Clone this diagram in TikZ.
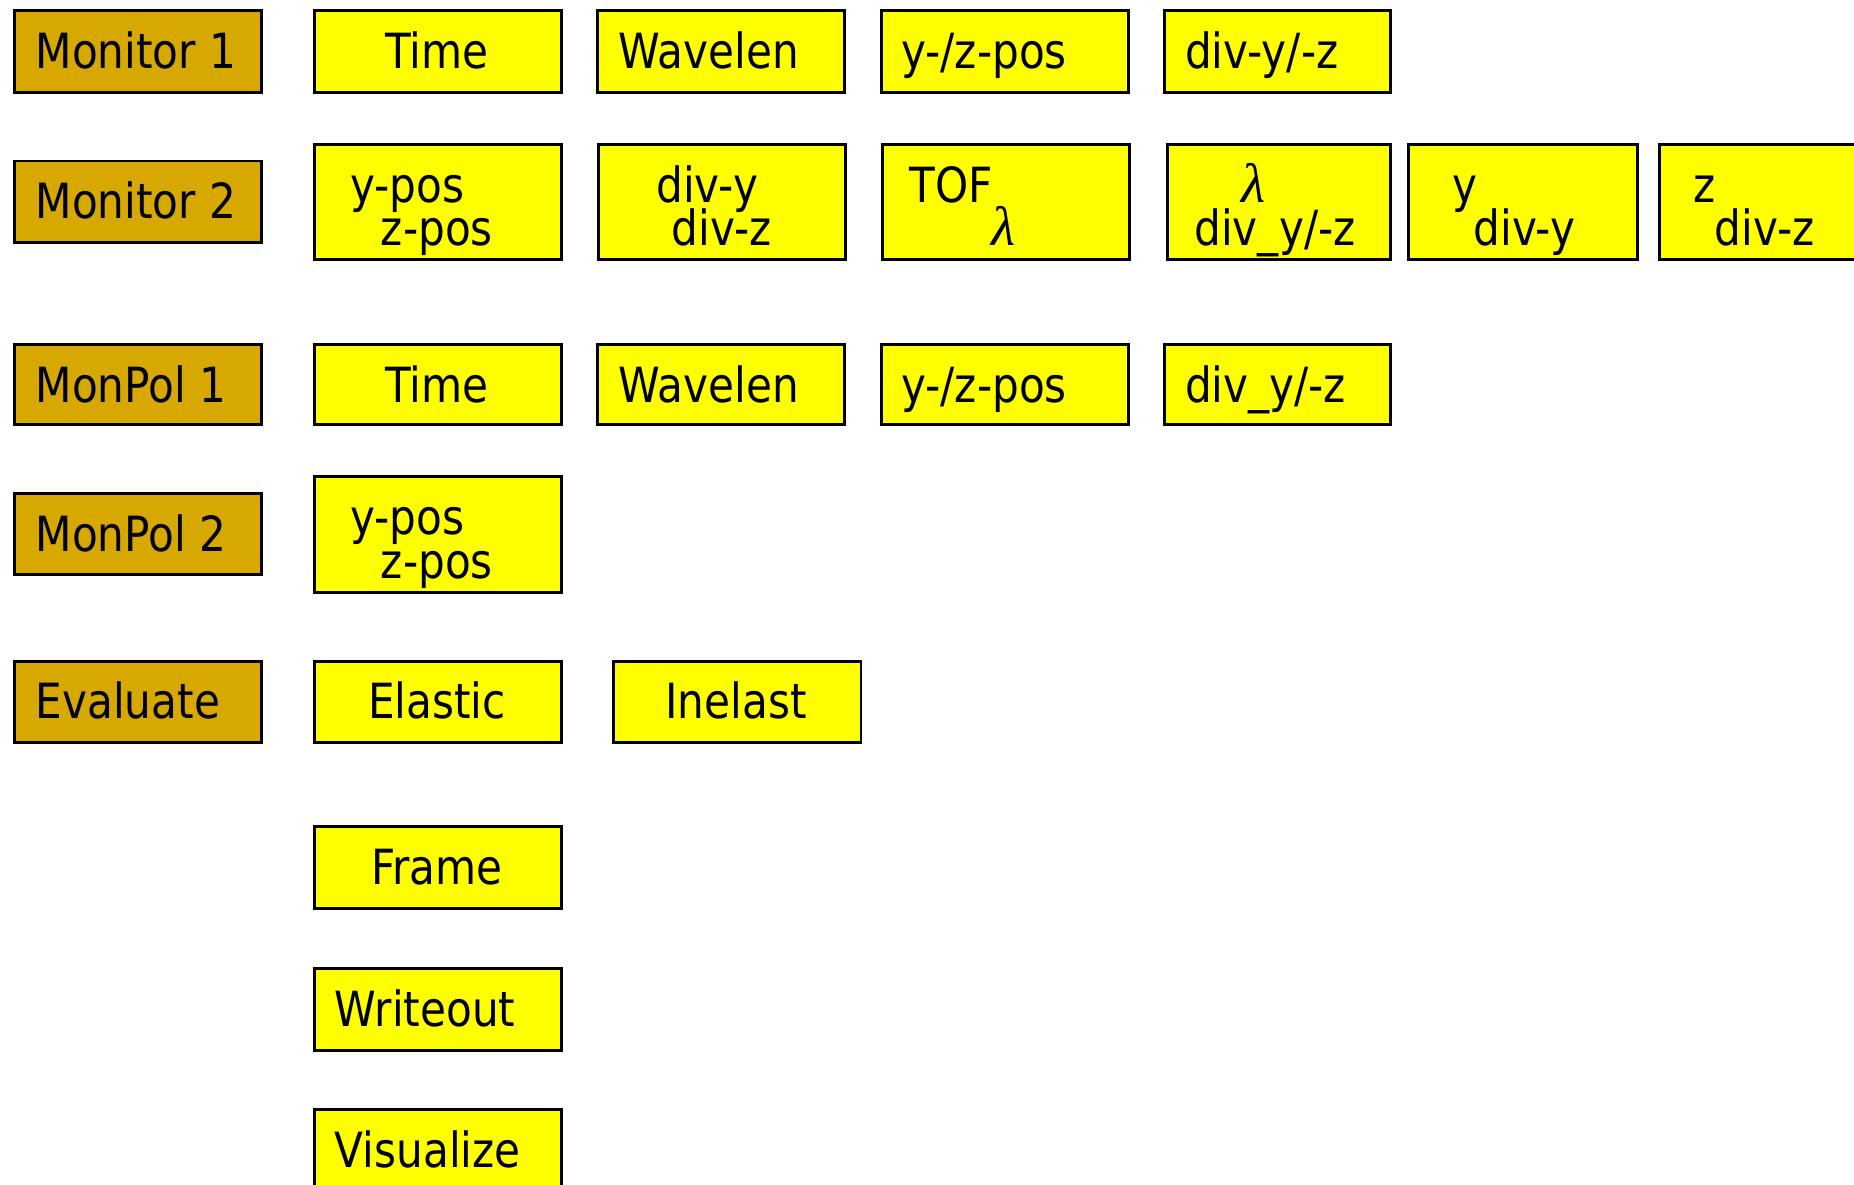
\documentclass[tikz,border=0pt]{standalone}
\usepackage{fontspec}
\setmainfont{DejaVu Sans}[FakeStretch=0.87]
\newfontfamily\lamfont{Liberation Serif}
\definecolor{headgold}{RGB}{214,168,0}
\definecolor{itemyellow}{RGB}{255,255,0}
\newcommand{\lam}{{\lamfont\itshape\fontsize{47}{47}\selectfont λ}}
\tikzset{
  box/.style={draw=black, line width=2.4pt, anchor=north west, inner sep=0pt},
  headbox/.style={box, fill=headgold},
  itembox/.style={box, fill=itemyellow},
  lbl/.style={inner sep=0pt, font=\fontsize{41}{41}\selectfont, anchor=base west},
  clbl/.style={lbl, anchor=base},
}
\begin{document}
\begin{tikzpicture}[x=1pt, y=-1pt]
\clip (0,0) rectangle (1568,1002);
\useasboundingbox (0,0) rectangle (1568,1002);

% --- row 1: Monitor 1
\node[headbox, minimum width=209pt, minimum height=69pt] (m1) at (11,8) {};
\node[itembox, minimum width=209pt, minimum height=69pt] (m1a) at (265,8) {};
\node[itembox, minimum width=209pt, minimum height=69pt] (m1b) at (504,8) {};
\node[itembox, minimum width=209pt, minimum height=69pt] (m1c) at (744,8) {};
\node[itembox, minimum width=191pt, minimum height=69pt] (m1d) at (984,8) {};
\node[lbl] (m1t) at (30,58) {Monitor 1};
\node[clbl] (m1at) at (369.5,58) {Time};
\node[lbl] (m1bt) at (523,58) {Wavelen};
\node[lbl] (m1ct) at (762,58) {y-/z-pos};
\node[lbl] (m1dt) at (1002,58) {div-y/-z};

% --- row 2: Monitor 2
\node[headbox, minimum width=209pt, minimum height=69pt] (m2) at (11,135) {};
\node[itembox, minimum width=209pt, minimum height=97pt] (m2a) at (265,121) {};
\node[itembox, minimum width=209pt, minimum height=97pt] (m2b) at (505,121) {};
\node[itembox, minimum width=209pt, minimum height=97pt] (m2c) at (745,121) {};
\node[itembox, minimum width=189pt, minimum height=97pt] (m2d) at (986,121) {};
\node[itembox, minimum width=194pt, minimum height=97pt] (m2e) at (1190,121) {};
\node[itembox, minimum width=200pt, minimum height=97pt] (m2f) at (1402,121) {};
\node[lbl] (m2t) at (30,185) {Monitor 2};
\node[lbl] (m2a1) at (296,171) {y-pos};
\node[lbl] (m2a2) at (322,208) {z-pos};
\node[lbl] (m2b1) at (555,171) {div-y};
\node[lbl] (m2b2) at (568,208) {div-z};
\node[lbl] (m2c1) at (769,171) {TOF};
\node[lbl] (m2c2) at (838,208) {\lam};
\node[lbl] (m2d1) at (1050,171) {\lam};
\node[lbl] (m2d2) at (1010,208) {div\_y/-z};
\node[lbl] (m2e1) at (1228,171) {y};
\node[lbl] (m2e2) at (1246,208) {div-y};
\node[lbl] (m2f1) at (1432,171) {z};
\node[lbl] (m2f2) at (1450,208) {div-z};

% --- row 3: MonPol 1
\node[headbox, minimum width=209pt, minimum height=68pt] (p1) at (11,290) {};
\node[itembox, minimum width=209pt, minimum height=68pt] (p1a) at (265,290) {};
\node[itembox, minimum width=209pt, minimum height=68pt] (p1b) at (504,290) {};
\node[itembox, minimum width=209pt, minimum height=68pt] (p1c) at (744,290) {};
\node[itembox, minimum width=191pt, minimum height=68pt] (p1d) at (984,290) {};
\node[lbl] (p1t) at (30,340) {MonPol 1};
\node[clbl] (p1at) at (369.5,340) {Time};
\node[lbl] (p1bt) at (523,340) {Wavelen};
\node[lbl] (p1ct) at (762,340) {y-/z-pos};
\node[lbl] (p1dt) at (1002,340) {div\_y/-z};

% --- row 4: MonPol 2
\node[headbox, minimum width=209pt, minimum height=69pt] (p2) at (11,416) {};
\node[itembox, minimum width=209pt, minimum height=98pt] (p2a) at (265,402) {};
\node[lbl] (p2t) at (30,466) {MonPol 2};
\node[lbl] (p2a1) at (296,452) {y-pos};
\node[lbl] (p2a2) at (322,489) {z-pos};

% --- row 5: Evaluate
\node[headbox, minimum width=209pt, minimum height=69pt] (ev) at (11,558) {};
\node[itembox, minimum width=209pt, minimum height=69pt] (eva) at (265,558) {};
\node[itembox, minimum width=209pt, minimum height=69pt] (evb) at (518,558) {};
\node[lbl] (evt) at (30,608) {Evaluate};
\node[clbl] (evat) at (369.5,608) {Elastic};
\node[clbl] (evbt) at (622.5,608) {Inelast};

% --- remaining steps
\node[itembox, minimum width=209pt, minimum height=69pt] (fr) at (265,698) {};
\node[clbl] (frt) at (369.5,748) {Frame};
\node[itembox, minimum width=209pt, minimum height=69pt] (wo) at (265,818) {};
\node[lbl] (wot) at (283,868) {Writeout};
\node[itembox, minimum width=209pt, minimum height=80pt] (vi) at (265,937) {};
\node[lbl] (vit) at (283,987) {Visualize};
\end{tikzpicture}
\end{document}
